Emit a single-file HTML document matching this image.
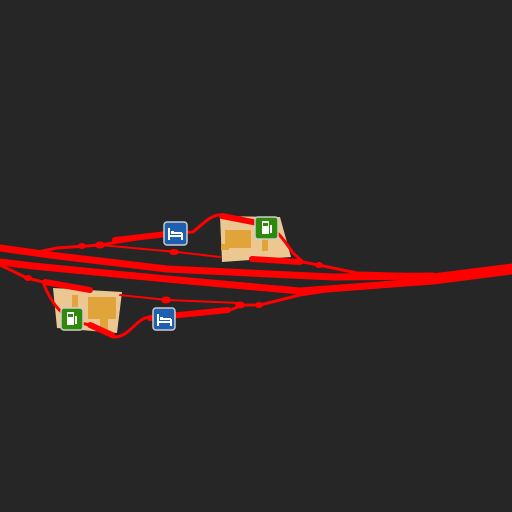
<!DOCTYPE html>
<html><head><meta charset="utf-8"><style>
html,body{margin:0;padding:0;background:#262626;width:512px;height:512px;overflow:hidden}
svg{display:block}
</style></head><body>
<svg width="512" height="512" viewBox="0 0 512 512">
<rect width="512" height="512" fill="#262626"/>
<g>
<polygon points="220,216 280,217 291,257 222,262" fill="#ecc792"/>
<rect x="225" y="230" width="26" height="18" fill="#e0a43a"/><rect x="262" y="237" width="6" height="14" fill="#e0a43a"/><rect x="221" y="244" width="8" height="6" fill="#e0a43a"/>
</g>
<g>
<polygon points="53,288 122,292 117,333 57,328" fill="#ecc792"/>
<rect x="88" y="297" width="28" height="22" fill="#e0a43a"/><rect x="72" y="295" width="6" height="12" fill="#e0a43a"/><rect x="100" y="318" width="8" height="12" fill="#e0a43a"/>
</g>
<g fill="none" stroke="#ff0000" stroke-linecap="round" stroke-linejoin="round">
<path d="M0,248 L50,255 L167,269 L333,277 L433,276" stroke-width="7"/>
<path d="M0,262 L33,266 L167,279 L300,291 L433,281" stroke-width="7"/>
<path d="M433,279 L512,269" stroke-width="11"/>
<path d="M33,253 L57,248 L100,245 L167,234 L193,232 C205,222 212,214 222,215 L260,223 C275,226 284,240 293,253 L303,262 L333,268 L357,273 L433,275" stroke-width="3"/>
<path d="M115,240 L167,234" stroke-width="6"/>
<path d="M222,216 L258,223" stroke-width="6"/>
<path d="M100,245 L177,252 L220,257" stroke-width="2"/>
<path d="M252,259 L300,262" stroke-width="6"/>
<path d="M0,265 L27,278 L43,282 L90,290 M43,282 C50,300 60,320 90,325 L113,337 C130,338 135,318 150,317 L230,310 L243,305 L260,305 L300,295 L333,290" stroke-width="3"/>
<path d="M45,282 L90,290" stroke-width="6"/>
<path d="M150,318 L228,310" stroke-width="6"/>
<path d="M90,325 L112,335" stroke-width="6"/>
<path d="M120,295 L167,300 L240,303" stroke-width="2"/>
</g>
<g fill="#ff0000">
<ellipse cx="82" cy="246" rx="4" ry="3"/><ellipse cx="100" cy="245" rx="5" ry="3.5"/><ellipse cx="174" cy="252" rx="5" ry="3"/>
<ellipse cx="319" cy="265" rx="4" ry="3"/><ellipse cx="28" cy="278" rx="4" ry="3"/>
<ellipse cx="166" cy="300" rx="5" ry="3.5"/><ellipse cx="240" cy="305" rx="5" ry="3.5"/><ellipse cx="259" cy="305" rx="4" ry="3"/>
</g>
<g><rect x="164" y="222" width="23" height="23" rx="3" fill="#1e5fb0" stroke="#ccc" stroke-width="1.5"/><rect x="168" y="228" width="2" height="12" fill="#fff"/><rect x="168" y="235" width="15" height="2" fill="#fff"/><rect x="181" y="233" width="2" height="7" fill="#fff"/><rect x="171" y="231" width="3" height="3" fill="#fff"/><rect x="174" y="232" width="8" height="2" fill="#fff"/></g>
<g><rect x="255" y="217" width="23" height="22" rx="3" fill="#2f8a0c" stroke="#ccc" stroke-width="1.5"/><rect x="262" y="221" width="7" height="13" fill="#fff"/><rect x="263" y="223" width="5" height="3" fill="#2f8a0c"/><rect x="270" y="225" width="2" height="8" fill="#fff"/></g>
<g><rect x="61" y="308" width="22" height="22" rx="3" fill="#2f8a0c" stroke="#ccc" stroke-width="1.5"/><rect x="67" y="312" width="7" height="13" fill="#fff"/><rect x="68" y="314" width="5" height="3" fill="#2f8a0c"/><rect x="75" y="316" width="2" height="8" fill="#fff"/></g>
<g><rect x="153" y="308" width="22" height="22" rx="3" fill="#1e5fb0" stroke="#ccc" stroke-width="1.5"/><rect x="157" y="314" width="2" height="12" fill="#fff"/><rect x="157" y="321" width="15" height="2" fill="#fff"/><rect x="170" y="319" width="2" height="7" fill="#fff"/><rect x="160" y="317" width="3" height="3" fill="#fff"/><rect x="163" y="318" width="8" height="2" fill="#fff"/></g>
</svg>
</body></html>
